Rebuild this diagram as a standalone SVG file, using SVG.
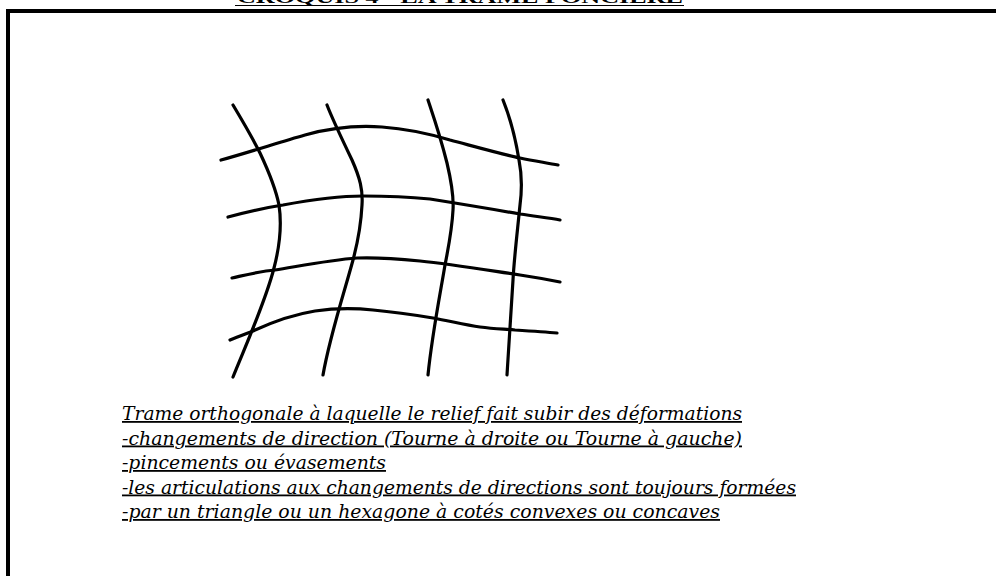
<svg xmlns="http://www.w3.org/2000/svg" width="996" height="576" viewBox="0 0 996 576">
<style>
.grid{fill:none;stroke:#000;stroke-width:3.2;stroke-linecap:round;stroke-linejoin:round}
.t{font-family:"DejaVu Serif","Liberation Serif",serif;font-style:italic;font-size:18px;fill:#000;text-decoration:underline}
.title{font-family:"Liberation Serif",serif;font-weight:bold;font-size:16px;fill:#000}
</style>
<rect width="996" height="576" fill="#fff"/>
<g id="title">
<text class="title" x="237" y="3" textLength="446" lengthAdjust="spacingAndGlyphs">CROQUIS 4 - LA TRAME FONCIERE</text>
<line x1="235" y1="5.5" x2="684" y2="5.5" stroke="#000" stroke-width="1"/>
</g>
<g id="frame">
<rect x="6" y="9" width="990" height="4" fill="#000"/>
<rect x="6" y="9" width="4" height="567" fill="#000"/>
</g>
<g id="connectors">
<path class="grid" d="M233,105 C245,125 256,145 260,153 C268,170 276,190 279,205 C282,225 280,245 274,268 C266,300 248,340 233,377"/>
<path class="grid" d="M327,105 C332,118 340,135 352,160 C360,178 363,190 362,205 C361,225 357,245 353,260 C345,290 330,335 323,375"/>
<path class="grid" d="M428,100 C433,115 440,135 447,163 C451,180 454,195 453,210 C452,230 448,250 445,265 C440,295 432,335 428,375"/>
<path class="grid" d="M503,100 C509,115 515,135 519,160 C522,175 522,190 520,205 C517,235 514,260 513,280 C511,310 509,340 507,375"/>
<path class="grid" d="M221,160 C250,152 280,142 305,135 C330,128 355,125 382,127 C410,129 430,134 450,140 C480,148 505,155 520,158 C535,161 548,163 558,165"/>
<path class="grid" d="M228,217 C250,211 270,207 283,205 C310,200 335,196 363,196 C390,196 410,197 430,199 C455,203 480,207 520,214 C540,217 550,218 560,220"/>
<path class="grid" d="M232,278 C250,274 262,271 275,270 C300,266 330,260 357,258 C380,257 400,259 420,261 C450,264 480,269 520,275 C540,278 550,280 560,282"/>
<path class="grid" d="M230,340 C240,336 248,333 253,331 C268,324 290,315 315,311 C335,308 355,308 373,310 C395,312 415,315 433,318 C450,321 465,325 480,327 C495,329 505,329 515,330 C530,331 545,332 557,333"/>
</g>
<g id="caption">
<text class="t" x="122" y="420" textLength="620" lengthAdjust="spacingAndGlyphs">Trame orthogonale à laquelle le relief fait subir des déformations</text>
<text class="t" x="122" y="444.5" textLength="620" lengthAdjust="spacingAndGlyphs">-changements de direction (Tourne à droite ou Tourne à gauche)</text>
<text class="t" x="122" y="469" textLength="264" lengthAdjust="spacingAndGlyphs">-pincements ou évasements</text>
<text class="t" x="122" y="493.5" textLength="674" lengthAdjust="spacingAndGlyphs">-les articulations aux changements de directions sont toujours formées</text>
<text class="t" x="122" y="518" textLength="598" lengthAdjust="spacingAndGlyphs">-par un triangle ou un hexagone à cotés convexes ou concaves</text>
</g>
</svg>
